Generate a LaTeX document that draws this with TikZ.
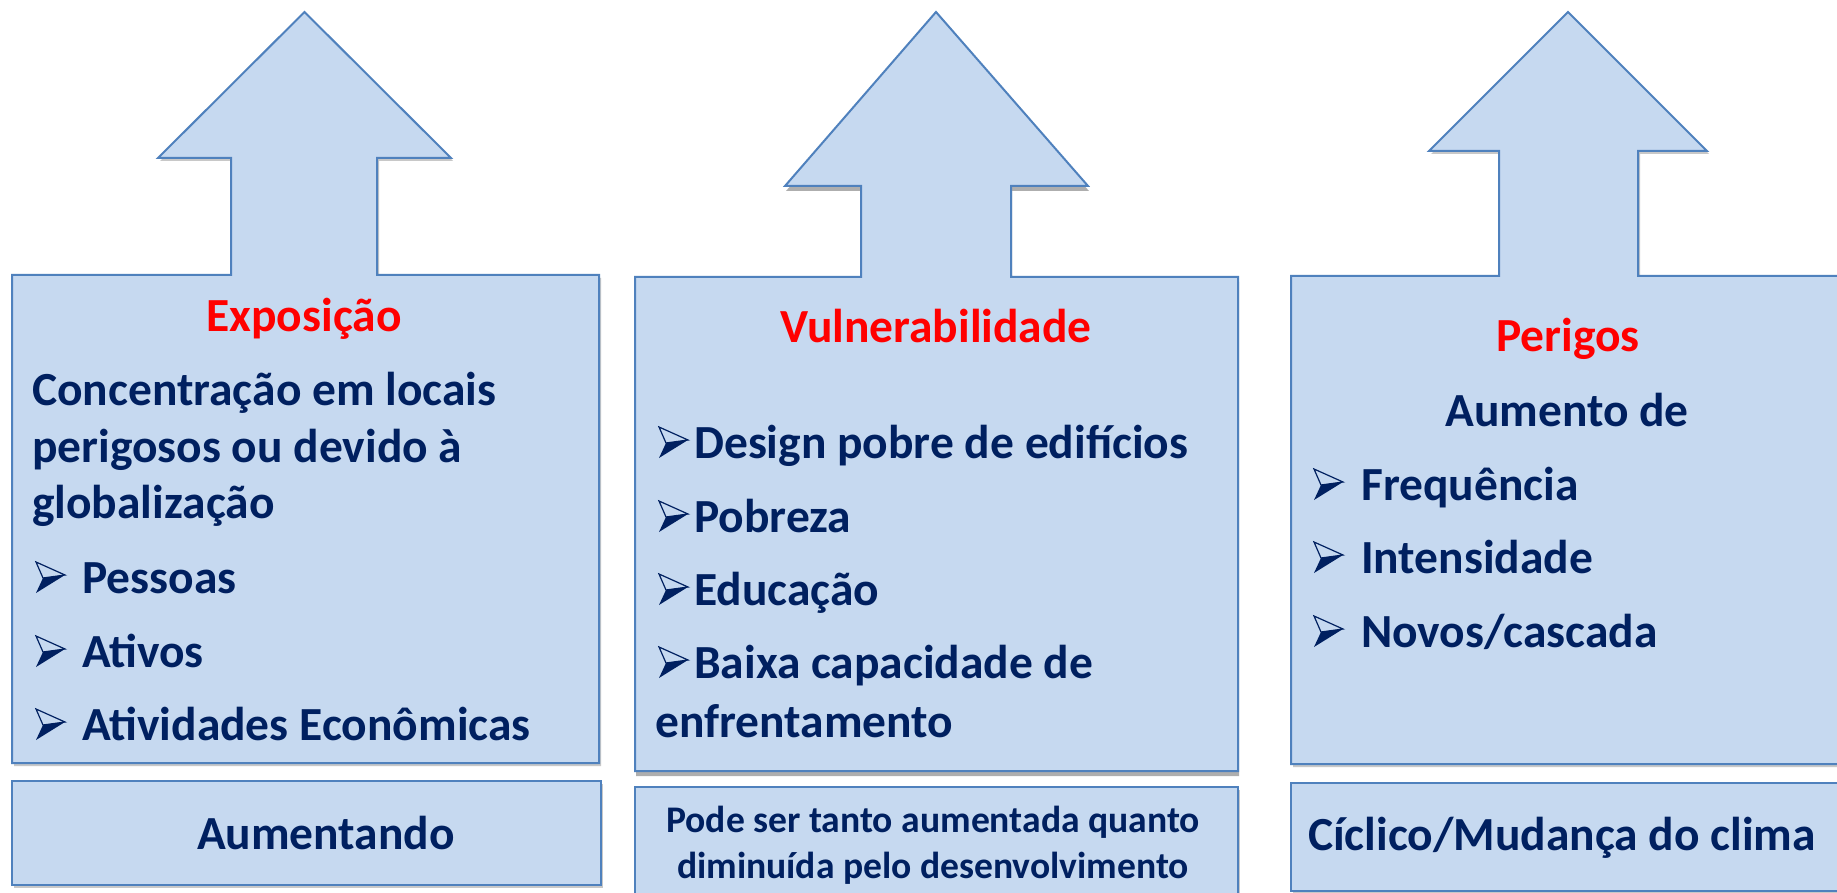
\documentclass[tikz,border=0pt]{standalone}
\usepackage{fontspec}
\setmainfont{Carlito}
\usetikzlibrary{shadows}
\definecolor{fillb}{HTML}{C6D9F0}
\definecolor{lineb}{HTML}{4F81BD}
\definecolor{navy}{HTML}{002060}
\definecolor{redt}{HTML}{FF0000}
\tikzset{
  panel/.style={fill=fillb, draw=lineb, line width=2pt, line join=miter},
  softshadow/.style={drop shadow={shadow xshift=2pt, shadow yshift=-3pt, opacity=0.3, fill=black!70}},
  hardshadow/.style={drop shadow={shadow xshift=1pt, shadow yshift=-5pt, opacity=0.45, fill=black!70}},
  txt/.style={inner sep=0pt, text=navy, font=\bfseries\fontsize{47.5}{57}\selectfont},
  ttl/.style={txt, text=redt},
  small/.style={inner sep=0pt, text=navy, font=\bfseries\fontsize{37.6}{45}\selectfont},
  bul/.pic={
    \fill[navy] (7,16) -- (29,13) -- (0,31) -- cycle;
    \draw[navy, line width=1.2pt, line join=miter] (7,16) -- (0,0) -- (29,13) -- cycle;
  }
}
\begin{document}
\begin{tikzpicture}[x=1pt,y=-1pt]
\useasboundingbox (0,0) rectangle (1837,893);
\fill[white] (0,0) rectangle (1837,893);
\clip (0,0) rectangle (1837,893);

% ---------- left panel ----------
\path[panel, softshadow] (12,763) -- (12,275) -- (231,275) -- (231,158) -- (158,158)
  -- (304.5,12) -- (451,158) -- (377,158) -- (377,275) -- (599,275) -- (599,763) -- cycle;
\path[panel, softshadow] (12,781) rectangle (601,885);

% ---------- middle panel ----------
\path[panel, hardshadow] (635,771) -- (635,277) -- (861,277) -- (861,186) -- (785,186)
  -- (936,12) -- (1088,186) -- (1011,186) -- (1011,277) -- (1238,277) -- (1238,771) -- cycle;
\path[panel, softshadow] (635,787) rectangle (1238,905);

% ---------- right panel ----------
\path[panel, softshadow] (1291,764) -- (1291,276) -- (1499,276) -- (1499,151) -- (1429,151)
  -- (1568,12) -- (1707,151) -- (1638,151) -- (1638,276) -- (1850,276) -- (1850,764) -- cycle;
\path[panel, softshadow] (1291,783) rectangle (1850,891);

% ---------- left texts ----------
\node[ttl, anchor=base] (e0) at (304,332) {Exposição};
\node[txt, anchor=base west] (e1) at (32,405) {Concentração em locais};
\node[txt, anchor=base west] (e2) at (32,462) {perigosos ou devido à};
\node[txt, anchor=base west] (e3) at (32,518) {globalização};
\pic at (36,562) {bul};
\node[txt, anchor=base west] (e4) at (82,593) {Pessoas};
\pic at (36,636) {bul};
\node[txt, anchor=base west] (e5) at (82,667) {Ativos};
\pic at (36,709) {bul};
\node[txt, anchor=base west] (e6) at (82,740) {Atividades Econômicas};
\node[txt, anchor=base] (b1) at (326,849) {Aumentando};

% ---------- middle texts ----------
\node[ttl, anchor=base] (v0) at (936,343) {Vulnerabilidade};
\pic at (659,427) {bul};
\node[txt, anchor=base west] (v1) at (694,458) {Design pobre de edifícios};
\pic at (659,501) {bul};
\node[txt, anchor=base west] (v2) at (694,532) {Pobreza};
\pic at (659,574) {bul};
\node[txt, anchor=base west] (v3) at (694,605) {Educação};
\pic at (659,647) {bul};
\node[txt, anchor=base west] (v4) at (694,678) {Baixa capacidade de};
\node[txt, anchor=base west] (v5) at (655,737) {enfrentamento};
\node[small, anchor=base] (b2a) at (933,832) {Pode ser tanto aumentada quanto};
\node[small, anchor=base] (b2b) at (933,878) {diminuída pelo desenvolvimento};

% ---------- right texts ----------
\node[ttl, anchor=base] (p0) at (1568,352) {Perigos};
\node[txt, anchor=base] (p1) at (1567,426) {Aumento de};
\pic at (1314,469) {bul};
\node[txt, anchor=base west] (p2) at (1361,500) {Frequência};
\pic at (1314,542) {bul};
\node[txt, anchor=base west] (p3) at (1361,573) {Intensidade};
\pic at (1314,616) {bul};
\node[txt, anchor=base west] (p4) at (1361,647) {Novos/cascada};
\node[txt, anchor=base] (b3) at (1562,850) {Cíclico/Mudança do clima};
\end{tikzpicture}
\end{document}
